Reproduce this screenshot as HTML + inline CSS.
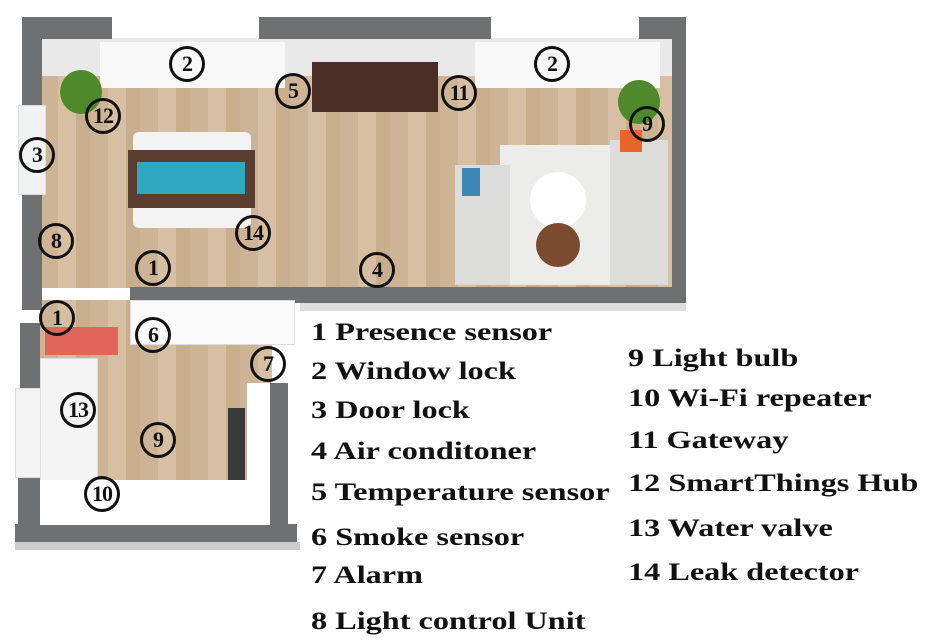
<!DOCTYPE html>
<html><head><meta charset="utf-8"><style>
body{margin:0;width:929px;height:644px;background:#fff;position:relative;overflow:hidden;font-family:"Liberation Serif",serif}
div{position:absolute;box-sizing:border-box}
.w{background:#6f7071}
.c{width:36px;height:36px;border:3px solid #111;border-radius:50%;font:bold 22px "Liberation Serif",serif;color:#111;text-align:center;line-height:30px;letter-spacing:-1px}
.t{font:bold 25px "Liberation Serif",serif;color:#111;white-space:nowrap;transform:scaleX(1.29);transform-origin:0 0}
.floor{background:repeating-linear-gradient(90deg,#cdb497 0 18px,#d6bfa3 18px 36px,#c9ae8e 36px 50px)}
</style></head><body>
<div style="left:0;top:0;width:700px;height:560px">
<div class="floor" style="left:40px;top:38px;width:634px;height:250px"></div>
<div style="left:40px;top:38px;width:634px;height:38px;background:#e9e9ea"></div>
<div class="floor" style="left:40px;top:300px;width:232px;height:226px"></div>
<div class="w" style="left:22px;top:17px;width:90px;height:22px"></div>
<div class="w" style="left:259px;top:17px;width:232px;height:22px"></div>
<div class="w" style="left:639px;top:17px;width:47px;height:22px"></div>
<div class="w" style="left:672px;top:17px;width:14px;height:288px"></div>
<div class="w" style="left:22px;top:17px;width:20px;height:88px"></div>
<div style="left:18px;top:105px;width:28px;height:90px;background:#f0f2f3;border:1px solid #ddd"></div>
<div class="w" style="left:22px;top:195px;width:20px;height:115px"></div>
<div class="w" style="left:20px;top:323px;width:20px;height:65px"></div>
<div style="left:15px;top:388px;width:30px;height:90px;background:#f3f3f3;border:1px solid #ddd"></div>
<div class="w" style="left:18px;top:478px;width:22px;height:64px"></div>
<div class="w" style="left:15px;top:524px;width:282px;height:18px"></div>
<div style="left:15px;top:542px;width:285px;height:8px;background:#ccc"></div>
<div class="w" style="left:130px;top:287px;width:556px;height:16px"></div>
<div style="left:300px;top:303px;width:386px;height:8px;background:#ddd"></div>
<div class="w" style="left:270px;top:383px;width:18px;height:145px"></div>
<div style="left:247px;top:383px;width:23px;height:142px;background:#fff"></div>
<div style="left:228px;top:408px;width:17px;height:82px;background:#3a3a3c"></div>
<div style="left:130px;top:300px;width:165px;height:45px;background:#fafafa;border:1px solid #ddd"></div>
<div style="left:40px;top:358px;width:58px;height:130px;background:#f4f4f4;border:1px solid #ddd"></div>
<div style="left:40px;top:480px;width:230px;height:45px;background:#fff"></div>
<div style="left:45px;top:327px;width:73px;height:28px;background:#e2655a"></div>
<div style="left:100px;top:42px;width:185px;height:46px;background:#f8f8f8"></div>
<div style="left:475px;top:42px;width:185px;height:46px;background:#f8f8f8"></div>
<div style="left:312px;top:62px;width:126px;height:50px;background:#4b2e25"></div>
<div style="left:133px;top:132px;width:118px;height:96px;background:#f3f3f3;border-radius:6px"></div>
<div style="left:128px;top:150px;width:127px;height:58px;background:#5a3d2e"></div>
<div style="left:137px;top:162px;width:108px;height:32px;background:#2ea9bf"></div>
<div style="left:500px;top:145px;width:110px;height:140px;background:#ececeb"></div>
<div style="left:455px;top:165px;width:55px;height:120px;background:#dcdcdb"></div>
<div style="left:610px;top:140px;width:58px;height:145px;background:#dcdcdb"></div>
<div style="left:530px;top:172px;width:56px;height:56px;border-radius:50%;background:#fff"></div>
<div style="left:536px;top:223px;width:44px;height:44px;border-radius:50%;background:#7a4b2e"></div>
<div style="left:60px;top:70px;width:42px;height:44px;border-radius:50%;background:#4f8a2a"></div>
<div style="left:618px;top:80px;width:42px;height:44px;border-radius:50%;background:#4f8a2a"></div>
<div style="left:620px;top:130px;width:22px;height:22px;background:#e8652c"></div>
<div style="left:462px;top:168px;width:18px;height:28px;background:#3c87b5"></div>
</div>
<div class="c" style="left:169px;top:46px">2</div>
<div class="c" style="left:534px;top:46px">2</div>
<div class="c" style="left:275px;top:73px">5</div>
<div class="c" style="left:441px;top:75px">11</div>
<div class="c" style="left:85px;top:98px">12</div>
<div class="c" style="left:629px;top:106px">9</div>
<div class="c" style="left:19px;top:137px">3</div>
<div class="c" style="left:38px;top:223px">8</div>
<div class="c" style="left:235px;top:215px">14</div>
<div class="c" style="left:135px;top:250px">1</div>
<div class="c" style="left:359px;top:252px">4</div>
<div class="c" style="left:39px;top:300px">1</div>
<div class="c" style="left:135px;top:317px">6</div>
<div class="c" style="left:250px;top:346px">7</div>
<div class="c" style="left:60px;top:392px">13</div>
<div class="c" style="left:140px;top:422px">9</div>
<div class="c" style="left:84px;top:476px">10</div>
<div class="t" style="left:311px;top:319px">1 Presence sensor</div>
<div class="t" style="left:311px;top:358px">2 Window lock</div>
<div class="t" style="left:311px;top:397px">3 Door lock</div>
<div class="t" style="left:311px;top:438px">4 Air conditoner</div>
<div class="t" style="left:311px;top:479px">5 Temperature sensor</div>
<div class="t" style="left:311px;top:524px">6 Smoke sensor</div>
<div class="t" style="left:311px;top:562px">7 Alarm</div>
<div class="t" style="left:311px;top:608px">8 Light control Unit</div>
<div class="t" style="left:628px;top:345px">9 Light bulb</div>
<div class="t" style="left:628px;top:385px">10 Wi-Fi repeater</div>
<div class="t" style="left:628px;top:427px">11 Gateway</div>
<div class="t" style="left:628px;top:470px">12 SmartThings Hub</div>
<div class="t" style="left:628px;top:515px">13 Water valve</div>
<div class="t" style="left:628px;top:559px">14 Leak detector</div>
</body></html>
